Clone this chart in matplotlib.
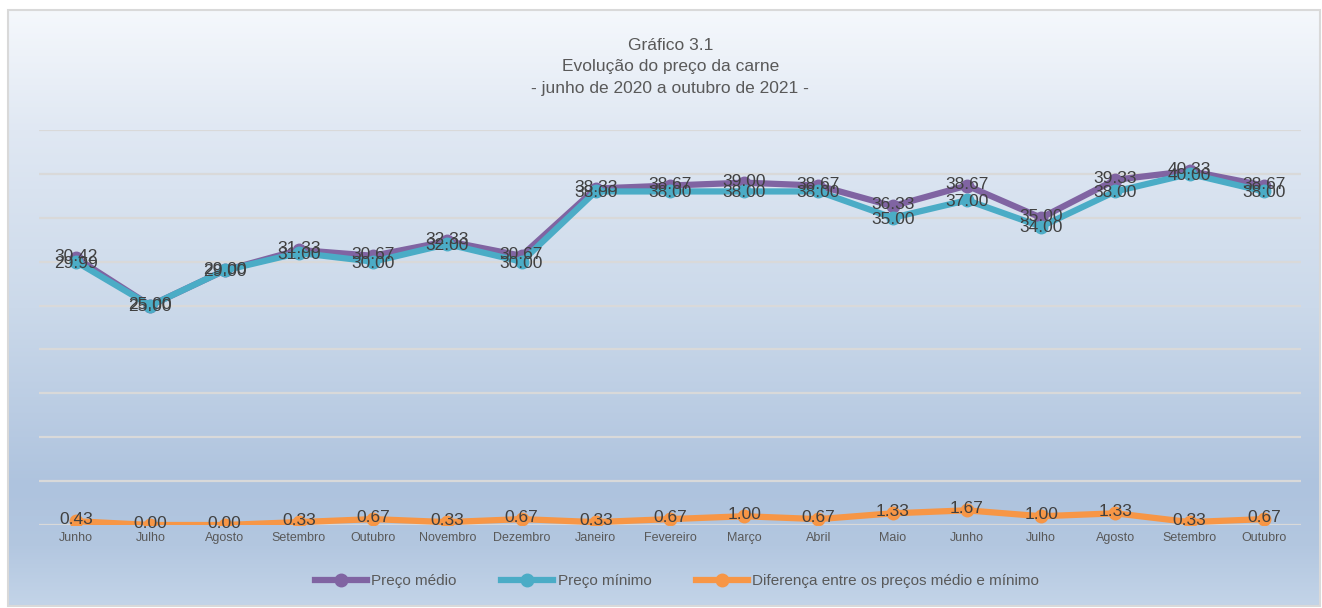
#!/usr/bin/env python3
"""Evolução do preço da carne, junho de 2020 a outubro de 2021."""

import matplotlib
matplotlib.use("Agg")
import matplotlib.pyplot as plt
import numpy as np
from matplotlib.patches import Rectangle


meses = ["Junho", "Julho", "Agosto", "Setembro", "Outubro", "Novembro", "Dezembro",
         "Janeiro", "Fevereiro", "Março", "Abril", "Maio", "Junho", "Julho",
         "Agosto", "Setembro", "Outubro"]
preco_medio = [30.42, 25.00, 29.00, 31.33, 30.67, 32.33, 30.67, 38.33, 38.67,
               39.00, 38.67, 36.33, 38.67, 35.00, 39.33, 40.33, 38.67]
preco_minimo = [29.99, 25.00, 29.00, 31.00, 30.00, 32.00, 30.00, 38.00, 38.00,
                38.00, 38.00, 35.00, 37.00, 34.00, 38.00, 40.00, 38.00]
diferenca = [0.43, 0.00, 0.00, 0.33, 0.67, 0.33, 0.67, 0.33, 0.67, 1.00, 0.67,
             1.33, 1.67, 1.00, 1.33, 0.33, 0.67]

PURPLE = "#8064a2"
CYAN = "#4bacc6"
ORANGE = "#f79646"
TEXT = "#404040"
GREY = "#595959"

plt.rcParams["font.family"] = ["Liberation Sans", "DejaVu Sans"]

W, H = 1322, 608
fig = plt.figure(figsize=(W / 100, H / 100), dpi=100)

# background gradient over the chart area (row 0 = top)
bg = fig.add_axes([0, 0, 1, 1], zorder=-2)
bg.set_axis_off()
stops_y = np.array([0.0, 0.2, 0.5, 0.8, 0.9, 1.0])
stops_c = np.array([
    [0xf5, 0xf8, 0xfc],
    [0xe0, 0xe8, 0xf3],
    [0xcb, 0xd9, 0xea],
    [0xae, 0xc3, 0xde],
    [0xb3, 0xc7, 0xe0],
    [0xc3, 0xd4, 0xe8],
]) / 255.0
ys = np.linspace(0, 1, 300)
grad = np.stack([np.interp(ys, stops_y, stops_c[:, k]) for k in range(3)], axis=-1)
grad = np.repeat(grad[:, None, :], 2, axis=1)
x0, x1 = 8 / W, 1320 / W
y0, y1 = 1 - 606 / H, 1 - 10 / H
bg.imshow(grad, extent=[x0, x1, y0, y1], aspect="auto", origin="upper")
bg.set_xlim(0, 1)
bg.set_ylim(0, 1)
bg.add_patch(Rectangle((x0, y0), x1 - x0, y1 - y0, fill=False,
                       edgecolor="#d9d9d9", lw=1.5))

ax = fig.add_axes([39 / W, 1 - 525 / H, (1301 - 39) / W, (525 - 130) / H])
ax.patch.set_alpha(0)
x = np.arange(len(meses))
ax.set_xlim(-0.5, len(meses) - 0.5)
ax.set_ylim(0, 45)
ax.set_yticks(np.arange(0, 46, 5))
ax.yaxis.grid(True, color="#d9d9d9", lw=1.6)
ax.set_axisbelow(True)
for s in ax.spines.values():
    s.set_visible(False)
ax.tick_params(axis="y", left=False, labelleft=False)
ax.tick_params(axis="x", length=0, pad=5, labelsize=9, labelcolor=GREY)
ax.set_xticks(x)
ax.set_xticklabels(meses)

ax.plot(x, preco_medio, color=PURPLE, lw=4.5, marker="o", ms=9, label="Preço médio")
ax.plot(x, preco_minimo, color=CYAN, lw=4.5, marker="o", ms=9, label="Preço mínimo")
ax.plot(x, diferenca, color=ORANGE, lw=4.5, marker="o", ms=9,
        label="Diferença entre os preços médio e mínimo")

for serie, dy in ((preco_medio, 1), (preco_minimo, -1), (diferenca, 1)):
    for xi, v in zip(x, serie):
        ax.annotate(f"{v:.2f}", (xi, v), xytext=(0, dy), textcoords="offset points",
                    ha="center", va="center", fontsize=12.5, color=TEXT)

fig.text(0.507, 1 - 45 / H, "Gráfico 3.1", ha="center", va="center", fontsize=12.5, color=GREY)
fig.text(0.507, 1 - 67 / H, "Evolução do preço da carne", ha="center", va="center",
         fontsize=12.5, color=GREY)
fig.text(0.507, 1 - 88 / H, "- junho de 2020 a outubro de 2021 -", ha="center",
         va="center", fontsize=12.5, color=GREY)

fig.legend(loc="center", bbox_to_anchor=(0.512, 1 - 581 / H), ncol=3, frameon=False,
           handlelength=3.4, handletextpad=0.3, columnspacing=2.9, fontsize=11,
           labelcolor=GREY)

fig.savefig("out.png", dpi=100)
